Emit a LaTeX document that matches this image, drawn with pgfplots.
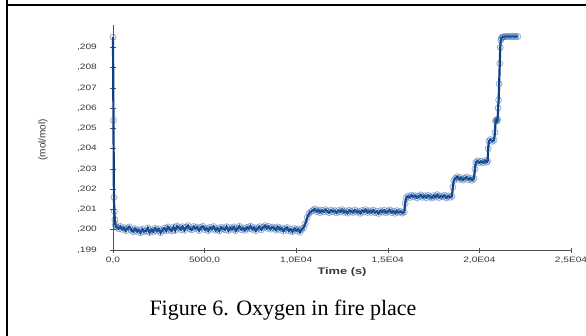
\documentclass[border=0pt]{standalone}
\usepackage{fontspec}
\setmainfont{Liberation Serif}
\newfontfamily\arial{Liberation Sans}
\usepackage{pgfplots}
\pgfplotsset{compat=1.18}
\definecolor{lineblue}{RGB}{16,62,130}
\definecolor{markblue}{RGB}{40,95,165}
\definecolor{axgrey}{RGB}{80,80,80}
\definecolor{txtgrey}{RGB}{55,55,55}
\begin{document}
\begin{tikzpicture}
\useasboundingbox (0pt,0pt) rectangle (586pt,335pt);
\draw[line width=2.5pt] (7pt,337pt) -- (7pt,-2pt);
\draw[line width=2.5pt] (5.75pt,330pt) -- (588pt,330pt);
\begin{axis}[
  at={(113pt,85pt)}, anchor=south west,
  scale only axis, width=458pt, height=225pt,
  xmin=0, xmax=25000, ymin=0.199, ymax=0.2101,
  axis lines*=left,
  axis line style={axgrey, line width=0.8pt},
  tick style={axgrey, line width=0.6pt},
  tick align=center, major tick length=5pt,
  xtick={0,5000,10000,15000,20000,25000},
  xticklabels={0{,}0,5000{,}0,1{,}0E04,1{,}5E04,2{,}0E04,2{,}5E04},
  ytick={0.199,0.200,0.201,0.202,0.203,0.204,0.205,0.206,0.207,0.208,0.209},
  yticklabels={{,}199,{,}200,{,}201,{,}202,{,}203,{,}204,{,}205,{,}206,{,}207,{,}208,{,}209},
  scaled ticks=false,
  ticklabel style={font=\arial\fontsize{7.8}{8}\selectfont, text=txtgrey, xscale=1.3},
  xticklabel style={yshift=-1.5pt},
  yticklabel style={xshift=-7pt},
  xlabel={\textbf{Time (s)}},
  xlabel style={font=\arial\fontsize{9.5}{10}\selectfont, text=txtgrey, xscale=1.35, yshift=3pt},
  ylabel={(mol/mol)},
  ylabel style={font=\arial\fontsize{10}{11}\selectfont, text=txtgrey,
    at={(axis description cs:-0.153,0.49)}, anchor=center},
  clip=false,
]
\addplot[lineblue, line width=2.2pt, mark=o, mark size=3pt,
  mark options={draw=markblue, draw opacity=0.5, line width=0.8pt}] table {
t y
0 0.20950
25 0.20540
50 0.20160
75 0.20090
100 0.20050
130 0.20025
160 0.20015
200 0.20012
300 0.20005
400 0.20016
500 0.20002
600 0.20010
700 0.19995
800 0.20009
900 0.20014
1000 0.19998
1100 0.19990
1200 0.20006
1300 0.19992
1400 0.19999
1500 0.19985
1600 0.20003
1700 0.19991
1800 0.19994
1900 0.20009
2000 0.19986
2100 0.20000
2200 0.19991
2300 0.20007
2400 0.19993
2500 0.20004
2600 0.19985
2700 0.19998
2800 0.20008
2900 0.19994
3000 0.20014
3100 0.20002
3200 0.19994
3300 0.20013
3400 0.19996
3500 0.20018
3600 0.20010
3700 0.20001
3800 0.20015
3900 0.19997
4000 0.20012
4100 0.20020
4200 0.20004
4300 0.19999
4400 0.20016
4500 0.20006
4600 0.20013
4700 0.19996
4800 0.20011
4900 0.20017
5000 0.20001
5100 0.20008
5200 0.19995
5300 0.20012
5400 0.20003
5500 0.20016
5600 0.19998
5700 0.20007
5800 0.19994
5900 0.20013
6000 0.20005
6100 0.20000
6200 0.20015
6300 0.19996
6400 0.20010
6500 0.20002
6600 0.20014
6700 0.19995
6800 0.20006
6900 0.20017
7000 0.20001
7100 0.20009
7200 0.19997
7300 0.20012
7400 0.20004
7500 0.20018
7600 0.20002
7700 0.20011
7800 0.19995
7900 0.20008
8000 0.20015
8100 0.20000
8200 0.20012
8300 0.20020
8400 0.20007
8500 0.20016
8600 0.20003
8700 0.20013
8800 0.20009
8900 0.19998
9000 0.20014
9100 0.20002
9200 0.20008
9300 0.19993
9400 0.20005
9500 0.20011
9600 0.19994
9700 0.20003
9800 0.19990
9900 0.20006
10000 0.19996
10100 0.20004
10200 0.19988
10300 0.20001
10400 0.20010
10500 0.20030
10600 0.20060
10700 0.20080
10800 0.20089
10900 0.20095
11000 0.20102
11100 0.20090
11200 0.20098
11300 0.20085
11400 0.20096
11500 0.20088
11600 0.20099
11700 0.20091
11800 0.20084
11900 0.20097
12000 0.20089
12100 0.20094
12200 0.20083
12300 0.20095
12400 0.20088
12500 0.20099
12600 0.20086
12700 0.20093
12800 0.20082
12900 0.20096
13000 0.20090
13100 0.20085
13200 0.20097
13300 0.20087
13400 0.20092
13500 0.20081
13600 0.20095
13700 0.20088
13800 0.20099
13900 0.20085
14000 0.20093
14100 0.20086
14200 0.20097
14300 0.20084
14400 0.20091
14500 0.20080
14600 0.20094
14700 0.20087
14800 0.20096
14900 0.20083
15000 0.20090
15100 0.20098
15200 0.20085
15300 0.20092
15400 0.20081
15500 0.20094
15600 0.20086
15700 0.20090
15800 0.20082
15900 0.20088
15950 0.20130
16000 0.20158
16100 0.20166
16200 0.20159
16300 0.20171
16400 0.20162
16500 0.20168
16600 0.20157
16700 0.20165
16800 0.20172
16900 0.20160
17000 0.20167
17100 0.20158
17200 0.20170
17300 0.20163
17400 0.20156
17500 0.20168
17600 0.20161
17700 0.20173
17800 0.20159
17900 0.20166
18000 0.20162
18100 0.20170
18200 0.20157
18300 0.20167
18400 0.20160
18500 0.20165
18550 0.20210
18600 0.20242
18700 0.20255
18800 0.20262
18900 0.20248
19000 0.20257
19100 0.20245
19200 0.20253
19300 0.20260
19400 0.20247
19500 0.20255
19600 0.20244
19700 0.20252
19760 0.20300
19800 0.20332
19900 0.20340
20000 0.20331
20100 0.20338
20200 0.20330
20300 0.20341
20400 0.20334
20450 0.20338
20480 0.20400
20520 0.20438
20600 0.20445
20700 0.20436
20800 0.20442
20850 0.20480
20880 0.20535
20920 0.20542
20960 0.20536
21000 0.20545
21020 0.20600
21050 0.20640
21080 0.20720
21110 0.20820
21140 0.20900
21170 0.20935
21200 0.20945
21250 0.20950
21300 0.20952
21400 0.20953
21500 0.20953
21600 0.20954
21700 0.20953
21800 0.20954
21900 0.20953
22000 0.20954
22100 0.20953
};
\end{axis}
\node[anchor=base, font=\fontsize{22}{24}\selectfont] at (283pt,20pt) {Figure 6. Oxygen in fire place};
\end{tikzpicture}
\end{document}
